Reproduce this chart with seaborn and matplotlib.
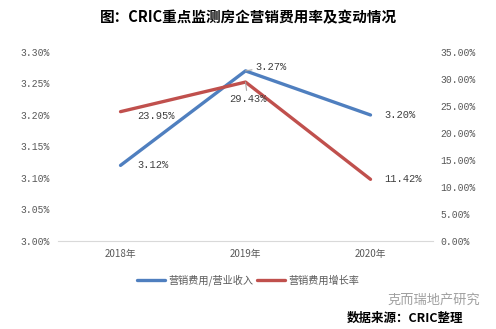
import matplotlib
matplotlib.use("Agg")
import matplotlib.pyplot as plt
import seaborn as sns
import pandas as pd
from matplotlib.ticker import FuncFormatter

sns.set_style("white")
plt.rcParams['font.family'] = ['Noto Sans CJK SC', 'DejaVu Sans']

years = ["2018年", "2019年", "2020年"]
expense_ratio = [3.12, 3.27, 3.20]        # 营销费用/营业收入 (%)
expense_growth = [23.95, 29.43, 11.42]    # 营销费用增长率 (%)
left_ticks = [3.00, 3.05, 3.10, 3.15, 3.20, 3.25, 3.30]
right_ticks = [0, 5, 10, 15, 20, 25, 30, 35]

blue = "#4F7FBF"
red = "#C0504D"
tick_color = "#595959"
mono = ["Liberation Mono", "DejaVu Sans Mono"]

df = pd.DataFrame({"year": years, "ratio": expense_ratio, "growth": expense_growth})
df["x"] = range(len(years))

fig = plt.figure(figsize=(4.96, 3.29), dpi=100)
ax = fig.add_axes([0.117, 0.2675, 0.756, 0.5745])
ax2 = ax.twinx()

sns.lineplot(data=df, x="x", y="ratio", ax=ax, color=blue, linewidth=2.4,
             label="营销费用/营业收入", legend=False)
sns.lineplot(data=df, x="x", y="growth", ax=ax2, color=red, linewidth=2.4,
             label="营销费用增长率", legend=False)

ax.set_xlim(-0.5, 2.5)
ax.set_ylim(3.00, 3.30)
ax2.set_ylim(0, 35)
ax.set_yticks(left_ticks)
ax2.set_yticks(right_ticks)
ax.yaxis.set_major_formatter(FuncFormatter(lambda v, p: f"{v:.2f}%"))
ax2.yaxis.set_major_formatter(FuncFormatter(lambda v, p: f"{v:.2f}%"))
ax.set_xticks(df["x"])
ax.set_xticklabels(years)
ax.set_xlabel("")
ax.set_ylabel("")
ax2.set_ylabel("")

for a in (ax, ax2):
    for s in a.spines.values():
        s.set_visible(False)
    a.tick_params(length=0, colors=tick_color, labelsize=7)
ax.spines["bottom"].set_visible(True)
ax.spines["bottom"].set_color("#D9D9D9")
ax.tick_params(axis="y", pad=6)
ax2.tick_params(axis="y", pad=5)
ax.tick_params(axis="x", pad=6)
for lbl in ax.get_yticklabels() + ax2.get_yticklabels():
    lbl.set_family(mono)
for lbl in ax.get_xticklabels():
    lbl.set_family(["Noto Sans CJK SC"])

lab_kw = dict(fontsize=7.5, color="#404040", family=mono)
# ratio labels
ax.annotate(f"{expense_ratio[0]:.2f}%", (0, expense_ratio[0]), xytext=(12, 0),
            textcoords="offset points", va="center", **lab_kw)
ax.annotate(f"{expense_ratio[1]:.2f}%", (1, expense_ratio[1]), xytext=(7, 3),
            textcoords="offset points", va="center", **lab_kw,
            arrowprops=dict(arrowstyle="-", color="#A6A6A6", lw=0.8,
                            shrinkA=0, shrinkB=0))
ax.annotate(f"{expense_ratio[2]:.2f}%", (2, expense_ratio[2]), xytext=(10, 0),
            textcoords="offset points", va="center", **lab_kw)
# growth labels
ax2.annotate(f"{expense_growth[0]:.2f}%", (0, expense_growth[0]), xytext=(12, -3),
             textcoords="offset points", va="center", **lab_kw)
ax2.annotate(f"{expense_growth[1]:.2f}%", (1, expense_growth[1]), xytext=(-12, -12),
             textcoords="offset points", va="center", **lab_kw,
             arrowprops=dict(arrowstyle="-", color="#A6A6A6", lw=0.8,
                             shrinkA=0, shrinkB=0))
ax2.annotate(f"{expense_growth[2]:.2f}%", (2, expense_growth[2]), xytext=(10, 0),
             textcoords="offset points", va="center", **lab_kw)

h1, l1 = ax.get_legend_handles_labels()
h2, l2 = ax2.get_legend_handles_labels()
fig.legend(h1 + h2, l1 + l2, loc="center", bbox_to_anchor=(0.5, 0.147), ncol=2,
           frameon=False, fontsize=7.3, handlelength=2.8, columnspacing=0.3,
           handletextpad=0.3, labelcolor="#595959")

fig.text(0.5, 0.948, "图：CRIC重点监测房企营销费用率及变动情况", ha="center", va="center",
         fontsize=10.5, fontweight="bold", color="#000000")
fig.text(0.968, 0.087, "克而瑞地产研究", ha="right", va="center", fontsize=9.5,
         color="#A0A0A0")
fig.text(0.935, 0.033, "数据来源：CRIC整理", ha="right", va="center", fontsize=9,
         fontweight="bold", color="#000000")

fig.savefig("out.png", dpi=100)
